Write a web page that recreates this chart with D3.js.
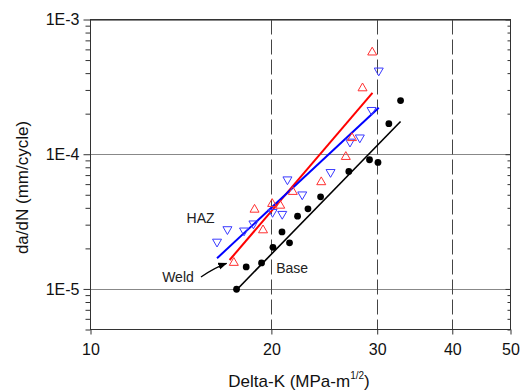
<!DOCTYPE html>
<html><head><meta charset="utf-8">
<script src="https://cdn.jsdelivr.net/npm/d3@7/dist/d3.min.js"></script>
<style>
body{margin:0;background:#fff;}
svg{display:block;font-family:"Liberation Sans",Arial,sans-serif;}
</style></head>
<body><svg id="c" width="527" height="392"></svg>
<script>
// ---- data ----
const xTicks = [10, 20, 30, 40, 50];
const yMajor = [1e-5, 1e-4, 1e-3];
const yMajorLabels = ["1E-5", "1E-4", "1E-3"];
const xGridDashed = [20, 30, 40];

const baseK    = [17.5, 18.16, 19.26, 20.12, 20.83, 21.44, 22.11, 23.01, 24.15, 26.91, 29.13, 30.09, 31.37, 32.81];
const baseRate = [9.95e-6, 1.457e-5, 1.56e-5, 2.035e-5, 2.65e-5, 2.20e-5, 3.47e-5, 3.93e-5, 4.83e-5, 7.45e-5, 9.10e-5, 8.69e-5, 1.685e-4, 2.50e-4];

const weldK    = [17.32, 18.75, 19.37, 20.06, 20.69, 21.71, 24.21, 26.60, 27.24, 28.36, 29.43];
const weldRate = [1.60e-5, 3.97e-5, 2.79e-5, 4.38e-5, 4.25e-5, 5.38e-5, 6.35e-5, 9.78e-5, 1.35e-4, 3.16e-4, 5.83e-4];

const hazK     = [16.24, 16.90, 18.01, 18.67, 20.09, 20.85, 21.27, 22.51, 25.09, 27.03, 28.07, 29.36, 30.18];
const hazRate  = [2.19e-5, 2.71e-5, 2.65e-5, 2.99e-5, 3.64e-5, 3.52e-5, 6.35e-5, 4.91e-5, 7.20e-5, 1.21e-4, 1.30e-4, 2.08e-4, 4.08e-4];

const baseFitK = [17.5, 32.81],  baseFitRate = [9.83e-6, 1.75e-4];
const weldFitK = [17.04, 29.46], weldFitRate = [1.64e-5, 2.85e-4];
const hazFitK  = [16.24, 30.18], hazFitRate  = [1.69e-5, 2.21e-4];

const labels = [
  {text: "HAZ",  k: 14.45, r: 3.08e-5},
  {text: "Weld", k: 13.16, r: 1.133e-5},
  {text: "Base", k: 20.37, r: 1.32e-5}
];
const arrowFrom = {k: 15.27, r: 1.228e-5};
const arrowTo   = {k: 16.84, r: 1.547e-5};

// ---- chart ----
const svg = d3.select("#c");
const x = d3.scaleLog().domain([10, 50]).range([90.5, 510.5]);
const y = d3.scaleLog().domain([5e-6, 1e-3]).range([329.5, 19.5]);
const axisColor = "#333";

// horizontal grid
svg.append("g").selectAll("line").data(yMajor).join("line")
  .attr("x1", x(10)).attr("x2", x(50))
  .attr("y1", d => Math.round(y(d)) + 0.5).attr("y2", d => Math.round(y(d)) + 0.5)
  .attr("stroke", "#888").attr("stroke-width", 1);

// vertical dashed grid
svg.append("g").selectAll("line").data(xGridDashed).join("line")
  .attr("x1", d => Math.round(x(d)) + 0.5).attr("x2", d => Math.round(x(d)) + 0.5)
  .attr("y1", y(1e-3)).attr("y2", y(5e-6))
  .attr("stroke", "#444").attr("stroke-width", 1).attr("stroke-dasharray", "15,5");

// frame
svg.append("rect").attr("x", x(10)).attr("y", y(1e-3))
  .attr("width", x(50) - x(10)).attr("height", y(5e-6) - y(1e-3))
  .attr("fill", "none").attr("stroke", axisColor).attr("stroke-width", 1);

const minorY = y.ticks().filter(v => !yMajor.includes(v));

function styleAxis(g) {
  g.select(".domain").remove();
  g.selectAll(".tick line").attr("stroke", axisColor);
  g.selectAll(".tick text").attr("fill", "#111").style("font-size", "16px")
    .style("font-family", "'Liberation Sans', Arial, sans-serif");
}

// left axis
svg.append("g").attr("transform", `translate(${x(10)},0)`)
  .call(d3.axisLeft(y).tickValues(yMajor).tickSize(7).tickPadding(4)
    .tickFormat((d, i) => yMajorLabels[i])).call(styleAxis);
svg.append("g").attr("transform", `translate(${x(10)},0)`)
  .call(d3.axisLeft(y).tickValues(minorY).tickSize(5).tickFormat("")).call(styleAxis);

// right axis (inward)
svg.append("g").attr("transform", `translate(${x(50)},0)`)
  .call(d3.axisRight(y).tickValues(minorY).tickSize(-3).tickFormat("")).call(styleAxis);
svg.append("g").attr("transform", `translate(${x(50)},0)`)
  .call(d3.axisRight(y).tickValues(yMajor).tickSize(-5).tickFormat("")).call(styleAxis);

// bottom axis
svg.append("g").attr("transform", `translate(0,${y(5e-6)})`)
  .call(d3.axisBottom(x).tickValues(xTicks).tickSize(5).tickPadding(9)
    .tickFormat(d3.format("d"))).call(styleAxis);

// fit lines
const line = d3.line().x(d => x(d[0])).y(d => y(d[1]));
const fits = [
  {k: baseFitK, r: baseFitRate, c: "#000", w: 1.6},
  {k: weldFitK, r: weldFitRate, c: "#ff0000", w: 2},
  {k: hazFitK,  r: hazFitRate,  c: "#0000ff", w: 2}
];
fits.forEach(f => {
  svg.append("path").attr("d", line(d3.zip(f.k, f.r)))
    .attr("fill", "none").attr("stroke", f.c).attr("stroke-width", f.w);
});

// markers
const s = 9, h = 7.8;
const upTri = `M0,${-h/2}L${s/2},${h/2}L${-s/2},${h/2}Z`;
const downTri = `M0,${h/2}L${s/2},${-h/2}L${-s/2},${-h/2}Z`;

svg.append("g").selectAll("path").data(d3.zip(hazK, hazRate)).join("path")
  .attr("d", downTri).attr("transform", d => `translate(${x(d[0])},${y(d[1])})`)
  .attr("fill", "none").attr("stroke", "#3a3aff").attr("stroke-width", 1);

svg.append("g").selectAll("path").data(d3.zip(weldK, weldRate)).join("path")
  .attr("d", upTri).attr("transform", d => `translate(${x(d[0])},${y(d[1])})`)
  .attr("fill", "none").attr("stroke", "#ff3030").attr("stroke-width", 1);

svg.append("g").selectAll("circle").data(d3.zip(baseK, baseRate)).join("circle")
  .attr("cx", d => x(d[0])).attr("cy", d => y(d[1])).attr("r", 3.4)
  .attr("fill", "#000");

// labels
svg.append("g").selectAll("text").data(labels).join("text")
  .attr("x", d => x(d.k)).attr("y", d => y(d.r))
  .style("font-size", "14px").attr("fill", "#222").text(d => d.text);

// arrow
svg.append("defs").append("marker").attr("id", "ah")
  .attr("viewBox", "0 0 10 10").attr("refX", 9).attr("refY", 5)
  .attr("markerWidth", 7).attr("markerHeight", 7).attr("orient", "auto")
  .append("path").attr("d", "M0,1L10,5L0,9Z").attr("fill", "#000");
const ax0 = x(arrowFrom.k), ay0 = y(arrowFrom.r), ax1 = x(arrowTo.k), ay1 = y(arrowTo.r);
svg.append("path")
  .attr("d", `M${ax0},${ay0}Q${(ax0 + ax1) / 2 + 2},${(ay0 + ay1) / 2 - 3} ${ax1},${ay1}`)
  .attr("fill", "none").attr("stroke", "#000").attr("stroke-width", 1.3)
  .attr("marker-end", "url(#ah)");

// axis titles
const xt = svg.append("text").attr("x", 299).attr("y", 387).attr("text-anchor", "middle")
  .style("font-size", "17px").attr("fill", "#111");
xt.append("tspan").text("Delta-K (MPa-m");
xt.append("tspan").attr("dy", -8).style("font-size", "10px").text("1/2");
xt.append("tspan").attr("dy", 8).text(")");

svg.append("text").attr("transform", "translate(28,187.5) rotate(-90)")
  .attr("text-anchor", "middle").style("font-size", "17px").attr("fill", "#111")
  .text("da/dN (mm/cycle)");
</script></body></html>
